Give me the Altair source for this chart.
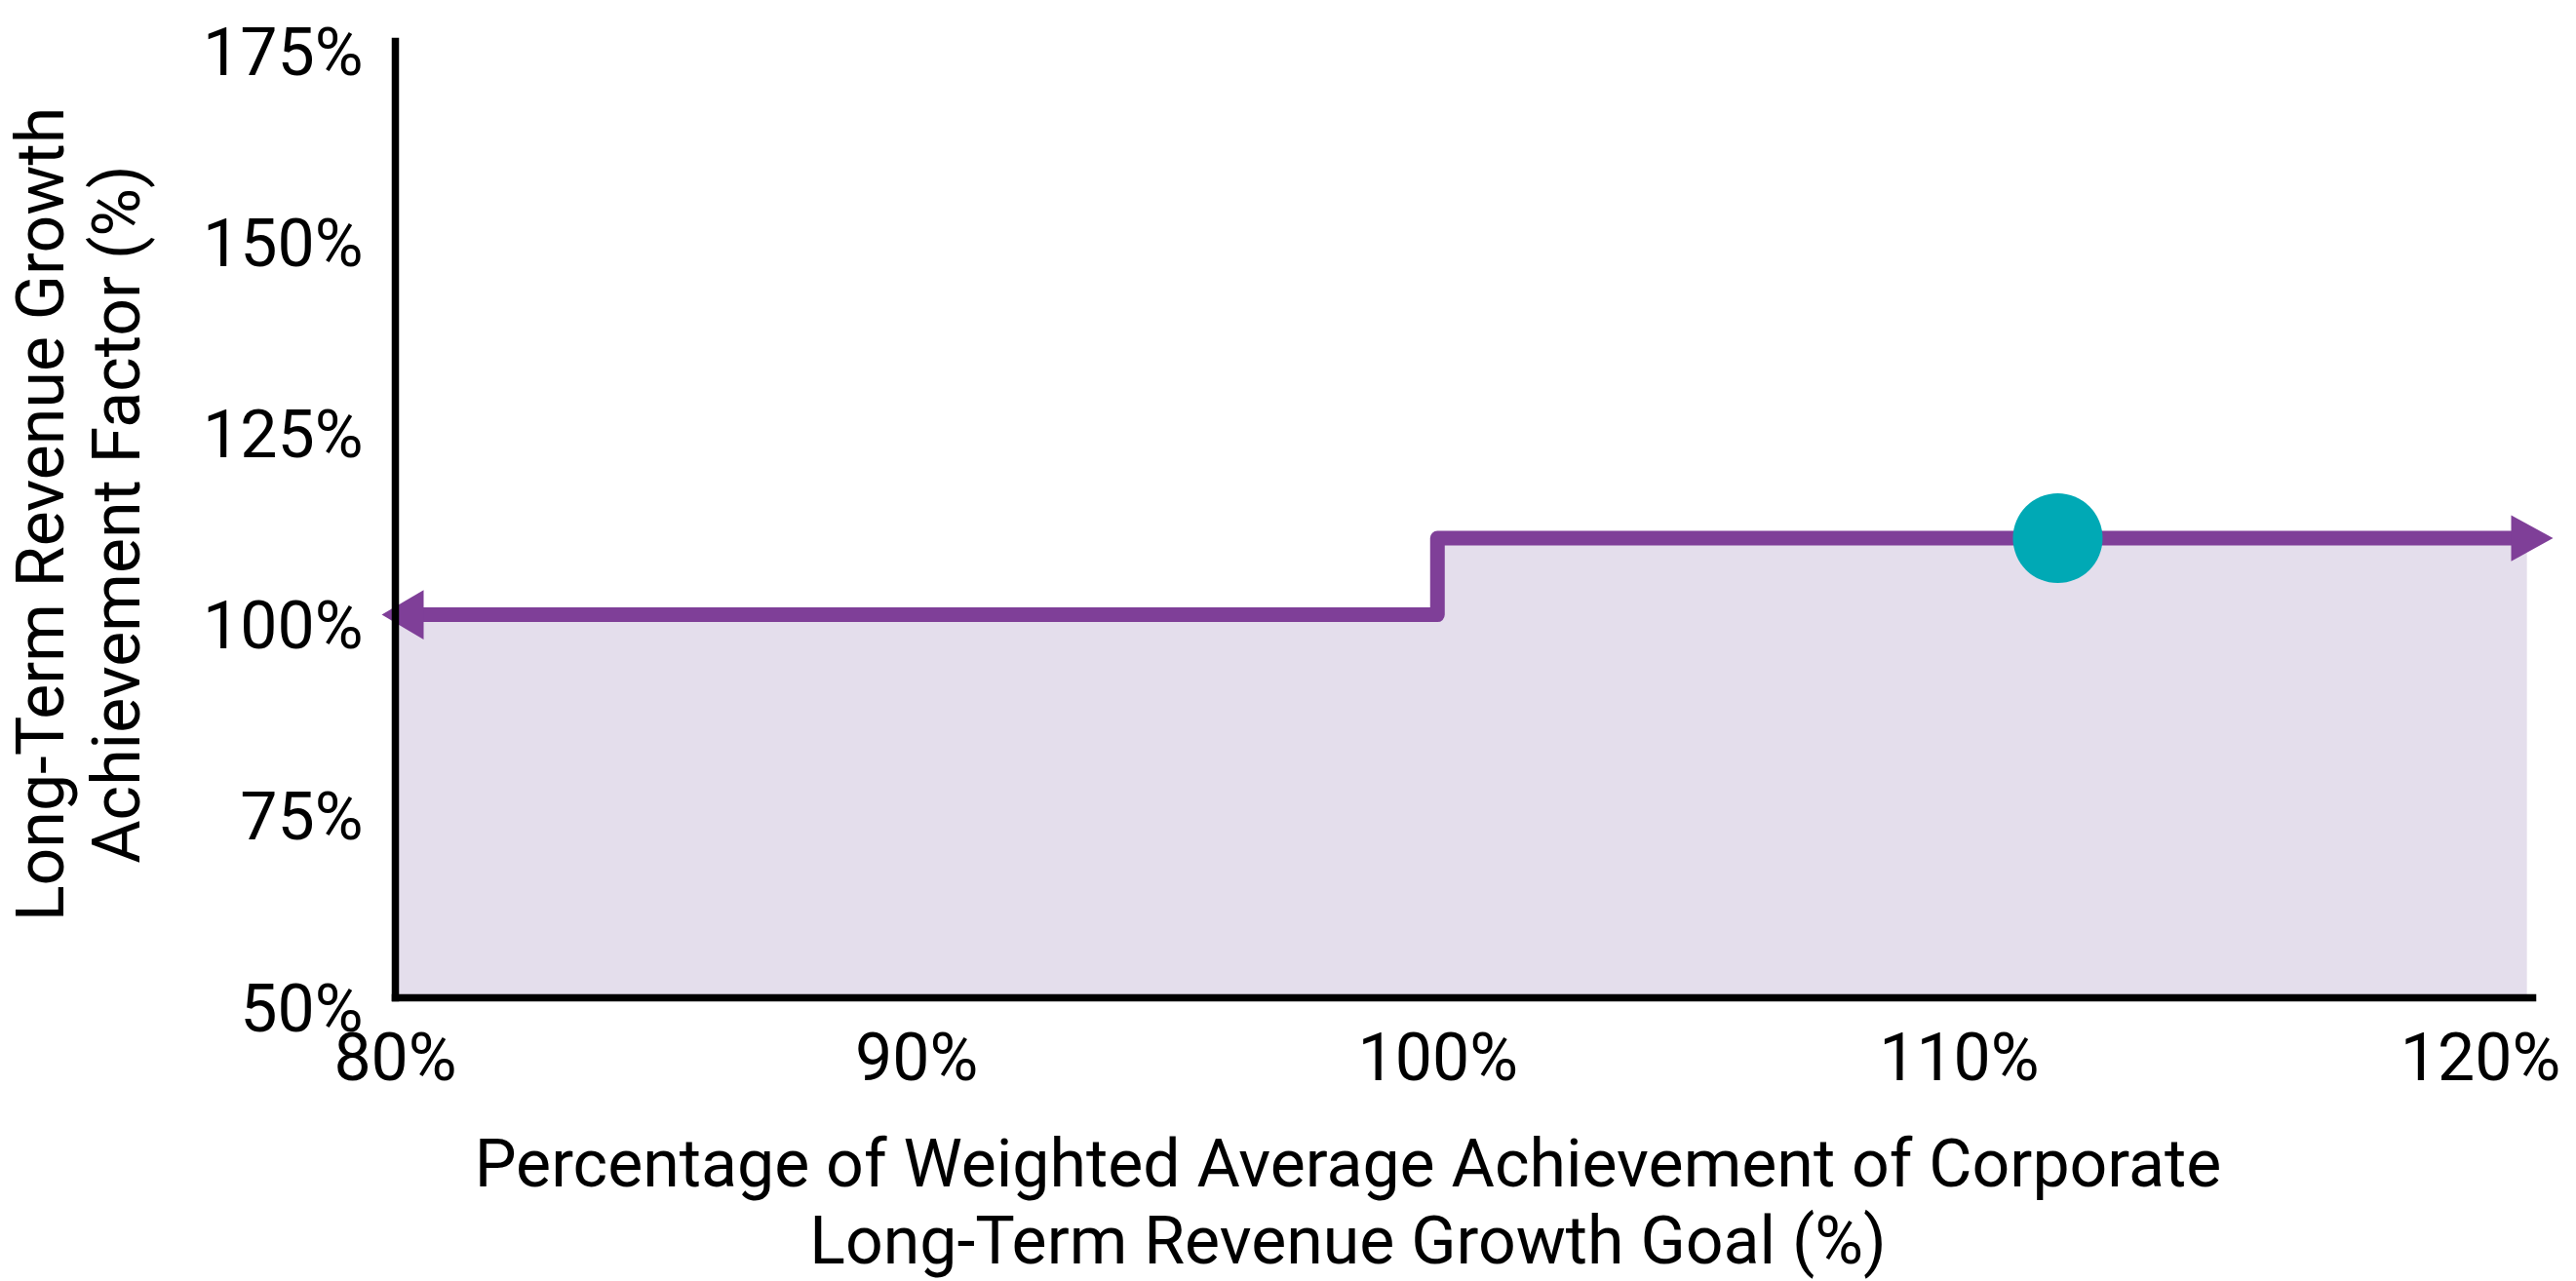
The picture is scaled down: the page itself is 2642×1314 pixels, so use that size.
import altair as alt
import pandas as pd

# Step function (achievement factor vs. weighted average achievement)
line_x = [80, 100, 121]
line_y = [100, 110, 110]
fill_x = [80, 100, 120.9]
fill_y = [100, 110, 110]
# Arrow heads at the ends of the step line
arrow_x = [80.15, 121]
arrow_y = [100, 110]
arrow_dir = ["left", "right"]
# Actual result marker
dot_x = [111.9]
dot_y = [110]

x_ticks = [80, 90, 100, 110, 120]
y_ticks = [50, 75, 100, 125, 150, 175]

PURPLE = "#7F3F98"
FILL = "#E4DEEC"
TEAL = "#00A9B5"
FONT = "Roboto"

line_df = pd.DataFrame({"x": line_x, "y": line_y})
fill_df = pd.DataFrame({"x": fill_x, "y": fill_y})
arrow_df = pd.DataFrame({"x": arrow_x, "y": arrow_y, "dir": arrow_dir})
dot_df = pd.DataFrame({"x": dot_x, "y": dot_y})

x_scale = alt.Scale(domain=[80, 121], nice=False, zero=False)
y_scale = alt.Scale(domain=[50, 175], nice=False, zero=False)

x_axis = alt.Axis(
    values=x_ticks,
    labelExpr="datum.value + '%'",
    title=["Percentage of Weighted Average Achievement of Corporate",
           "Long-Term Revenue Growth Goal (%)"],
    grid=False, ticks=False, tickSize=0,
    domainColor="black", domainWidth=7.5, domainCap="square",
    labelFont=FONT, labelFontSize=68, labelColor="black", labelPadding=30,
    labelFlush=False, labelOverlap=False,
    titleFont=FONT, titleFontSize=68, titleFontWeight="normal", titleColor="black",
    titleLineHeight=79, titleBaseline="top", titleAlign="center",
    titleX=977, titleY=139, zindex=1,
)
y_axis = alt.Axis(
    values=y_ticks,
    labelExpr="datum.value + '%'",
    title=["Long-Term Revenue Growth", "Achievement Factor (%)"],
    grid=False, ticks=False, tickSize=0,
    domainColor="black", domainWidth=7.5, domainCap="square",
    labelFont=FONT, labelFontSize=68, labelColor="black", labelPadding=33,
    labelBaseline="middle", labelOffset=14,
    labelFlush=False, labelOverlap=False,
    titleFont=FONT, titleFontSize=68, titleFontWeight="normal", titleColor="black",
    titleLineHeight=78, titleBaseline="top", titleAlign="center", titleAngle=-90,
    titleX=-395, titleY=485, zindex=1,
)

fill = alt.Chart(fill_df).mark_area(
    interpolate="step-after", color=FILL, opacity=1
).encode(
    x=alt.X("x:Q", scale=x_scale, axis=x_axis),
    y=alt.Y("y:Q", scale=y_scale, axis=y_axis),
    y2=alt.datum(50),
)

line = alt.Chart(line_df).mark_line(
    interpolate="step-after", color=PURPLE, strokeWidth=15,
    strokeJoin="round", strokeCap="butt"
).encode(x="x:Q", y="y:Q")

arrow_left = alt.Chart(arrow_df[arrow_df.dir == "left"]).mark_point(
    shape="M1,-1.18L-1,0L1,1.18Z", filled=True, size=1849,
    color=PURPLE, opacity=1, strokeWidth=0
).encode(x="x:Q", y="y:Q")

arrow_right = alt.Chart(arrow_df[arrow_df.dir == "right"]).mark_point(
    shape="M-1,-1.1L1,0L-1,1.1Z", filled=True, size=1849,
    color=PURPLE, opacity=1, strokeWidth=0
).encode(x="x:Q", y="y:Q")

dot = alt.Chart(dot_df).mark_point(
    shape="circle", filled=True, size=8464, color=TEAL, opacity=1, strokeWidth=0
).encode(x="x:Q", y="y:Q")

chart = alt.layer(fill, line, arrow_left, arrow_right, dot).properties(
    width=2192, height=981,
    autosize=alt.AutoSizeParams(type="none"),
    padding={"left": 397, "top": 34, "right": 37, "bottom": 291},
    background="white",
).configure_view(stroke=None)

chart.save("out.html", embed_options={"renderer": "svg", "actions": False})
